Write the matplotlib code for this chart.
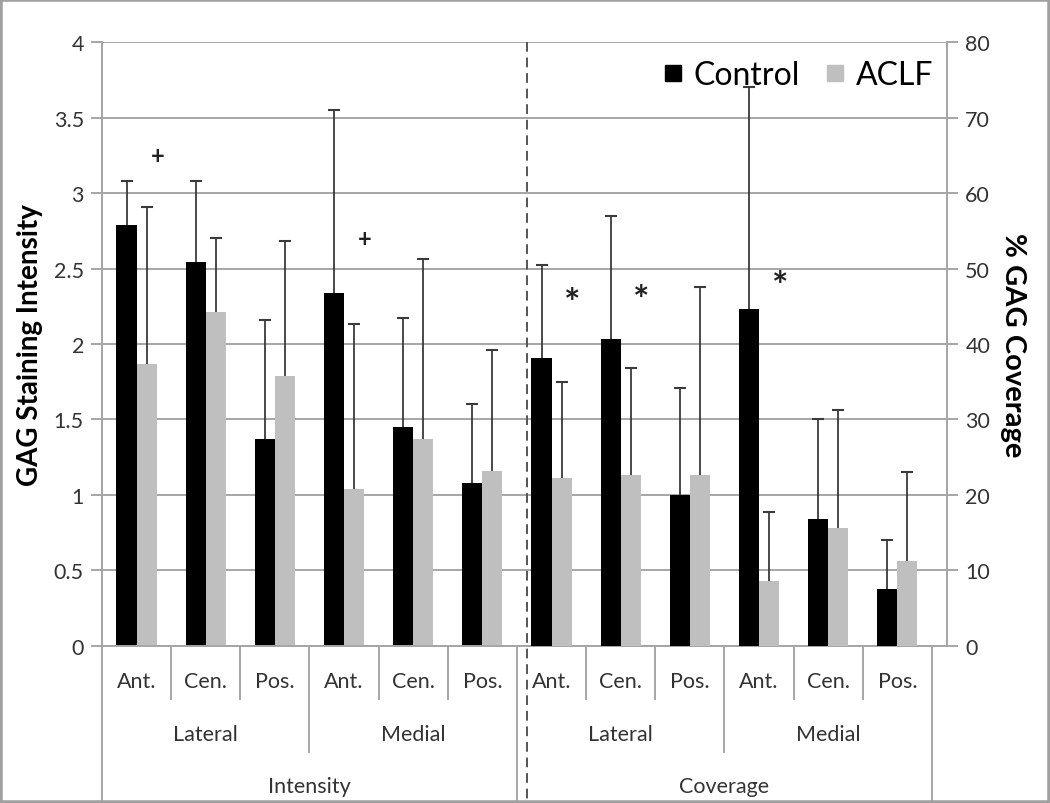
import numpy as np
import matplotlib
matplotlib.use('Agg')
import matplotlib.pyplot as plt
from matplotlib.patches import Rectangle
from matplotlib.lines import Line2D

plt.rcParams['font.family'] = ['Lato', 'DejaVu Sans']

# data
sites = ['Ant.', 'Cen.', 'Pos.'] * 4
sides = ['Lateral', 'Medial', 'Lateral', 'Medial']
measures = ['Intensity', 'Coverage']

# intensity (left axis), 6 groups
int_control = [2.79, 2.54, 1.37, 2.34, 1.45, 1.08]
int_control_err = [3.08, 3.08, 2.16, 3.55, 2.17, 1.60]
int_aclf = [1.87, 2.21, 1.79, 1.04, 1.37, 1.16]
int_aclf_err = [2.91, 2.70, 2.68, 2.13, 2.56, 1.96]

# coverage % (right axis), 6 groups
cov_control = [38.2, 40.6, 20.0, 44.6, 16.8, 7.6]
cov_control_err = [50.4, 57.0, 34.2, 74.0, 30.0, 14.0]
cov_aclf = [22.2, 22.6, 22.6, 8.6, 15.6, 11.2]
cov_aclf_err = [35.0, 36.8, 47.6, 17.8, 31.2, 23.0]

# significance marks: (group, symbol, level in left-axis units)
marks = [(0, '+', 3.25), (3, '+', 2.70), (6, '*', 2.27), (7, '*', 2.29), (9, '*', 2.38)]

fig = plt.figure(figsize=(10.5, 8.04), dpi=100)
ax = fig.add_axes([0.0971, 0.1953, 0.805, 0.7512])
ax2 = ax.twinx()

n = 12
x = np.arange(n)
w = 0.29
grid_c = '#a6a6a6'
err_c = '#3a3a3a'
txt_c = '#333333'

ax.set_ylim(0, 4)
ax2.set_ylim(0, 80)
ax.set_xlim(-0.5, n - 0.5 + 0.22)

ax.set_yticks(np.arange(0, 4.01, 0.5))
ax.set_yticklabels(['0', '0.5', '1', '1.5', '2', '2.5', '3', '3.5', '4'])
ax2.set_yticks(np.arange(0, 81, 10))
ax.yaxis.grid(True, color=grid_c, linewidth=1.4)
ax.set_axisbelow(True)
ax.set_xticks([])

for a in (ax, ax2):
    a.spines['top'].set_visible(False)
    for s in ['left', 'right', 'bottom']:
        a.spines[s].set_color(grid_c)
        a.spines[s].set_linewidth(1.4)
    a.tick_params(axis='y', length=8, width=1.4, color=grid_c, labelsize=15.5,
                  labelcolor=txt_c, pad=5)

# left half: intensity
xi = x[:6]
ax.bar(xi - w / 2, int_control, w, color='black', zorder=3)
ax.bar(xi + w / 2, int_aclf, w, color='#bfbfbf', zorder=3)
# right half: coverage
xc = x[6:]
ax2.bar(xc - w / 2, cov_control, w, color='black', zorder=3)
ax2.bar(xc + w / 2, cov_aclf, w, color='#bfbfbf', zorder=3)

def up_err(a, xs, vals, tops):
    a.vlines(xs, vals, tops, color=err_c, linewidth=1.3, zorder=4)
    a.plot(xs, tops, linestyle='none', marker='_', markersize=9,
           markeredgewidth=1.5, color=err_c, zorder=4)

up_err(ax, xi - w / 2, int_control, int_control_err)
up_err(ax, xi + w / 2, int_aclf, int_aclf_err)
up_err(ax2, xc - w / 2, cov_control, cov_control_err)
up_err(ax2, xc + w / 2, cov_aclf, cov_aclf_err)

for g, sym, lvl in marks:
    size = 17 if sym == '+' else 28
    ax.text(g + 0.3, lvl, sym, ha='center', va='center', fontsize=size,
            fontweight='bold', color='#222222', zorder=5)

# dashed separator between intensity and coverage
ax.plot([5.65, 5.65], [1.0, -0.26], transform=ax.get_xaxis_transform(),
        color='#555555', linestyle=(0, (5, 3)), linewidth=1.4, clip_on=False, zorder=5)

# multi-level category axis
tr = ax.get_xaxis_transform()
for i in range(n + 1):
    b = i - 0.5
    if i % 6 == 0:
        depth = -0.26
    elif i % 3 == 0:
        depth = -0.175
    else:
        depth = -0.088
    ax.plot([b, b], [0, depth], transform=tr, color=grid_c, linewidth=1.4, clip_on=False)

for i, lab in enumerate(sites):
    ax.text(i, -0.058, lab, transform=tr, ha='center', va='center', fontsize=15.5, color=txt_c)
for j, lab in enumerate(sides):
    ax.text(3 * j + 1, -0.146, lab, transform=tr, ha='center', va='center', fontsize=15.5, color=txt_c)
for k, lab in enumerate(measures):
    ax.text(6 * k + 2.5, -0.232, lab, transform=tr, ha='center', va='center', fontsize=15.5, color=txt_c)

ax.set_ylabel('GAG Staining Intensity', fontsize=20, fontweight='bold', labelpad=8)
ax2.set_ylabel('% GAG Coverage', fontsize=21, fontweight='bold', rotation=-90, labelpad=26)

handles = [Line2D([], [], linestyle='none', marker='s', markersize=12, color='black'),
           Line2D([], [], linestyle='none', marker='s', markersize=12, color='#bfbfbf')]
fig.legend(handles, ['Control', 'ACLF'], loc='upper right', bbox_to_anchor=(0.916, 0.96),
           ncol=2, frameon=False, fontsize=23, handletextpad=0.25, columnspacing=0.7,
           handlelength=0.8)

# outer frame
fig.patches.append(Rectangle((0, 0), 1, 1, transform=fig.transFigure, fill=False,
                             edgecolor='#a0a0a0', linewidth=4))

fig.savefig('out.png', dpi=100)
